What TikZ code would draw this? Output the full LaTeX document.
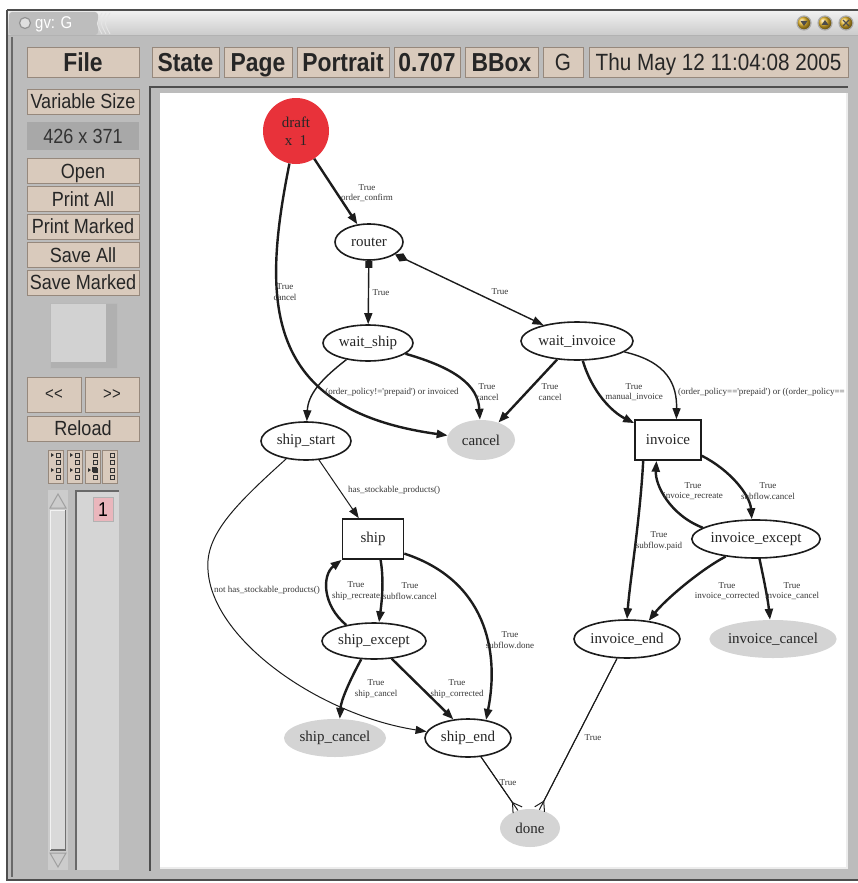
\documentclass[tikz,border=0pt]{standalone}
\usepackage{fontspec}
\setmainfont{Liberation Serif}
\newfontfamily\uifont[FakeStretch=0.88]{Liberation Sans}
\usetikzlibrary{arrows.meta,shapes.geometric}
\definecolor{panel}{RGB}{188,188,188}
\definecolor{btnfill}{RGB}{217,202,188}
\definecolor{btnline}{RGB}{150,136,124}
\definecolor{sizebox}{RGB}{168,168,168}
\definecolor{draftred}{RGB}{232,50,58}
\definecolor{grayfill}{RGB}{212,212,212}
\definecolor{pagepink}{RGB}{234,182,188}
\definecolor{darkline}{RGB}{78,78,78}
\definecolor{edgecol}{RGB}{28,28,28}
\definecolor{labelcol}{RGB}{55,55,55}
\definecolor{yellowbtn}{RGB}{228,180,40}
\tikzset{
  btn/.style={draw=btnline, line width=0.8pt, fill=btnfill, inner sep=0pt,
    text depth=0pt, text=black!85},
  topbtn/.style={btn, minimum height=30, text height=18.6pt, font=\uifont\bfseries\fontsize{26}{28}\selectfont},
  topbtnreg/.style={btn, minimum height=30, text height=16.8pt, font=\uifont\fontsize{23.5}{26}\selectfont},
  sidebtn/.style={btn, minimum width=112, minimum height=25, text height=14.7pt, font=\uifont\fontsize{20.5}{22}\selectfont},
  gnode/.style={ellipse, draw=edgecol, line width=1.6pt, inner sep=0pt,
    font=\fontsize{15}{17}\selectfont, text=black!85},
  gbox/.style={rectangle, draw=edgecol, line width=1.6pt, inner sep=0pt,
    font=\fontsize{15}{17}\selectfont, text=black!85},
  gfilled/.style={ellipse, fill=grayfill, inner sep=0pt,
    font=\fontsize{15}{17}\selectfont, text=black!85},
  elab/.style={font=\fontsize{9}{10.5}\selectfont, text=labelcol, align=center, inner sep=0pt},
  arrowtri/.style={-{Triangle[length=11pt,width=8pt]}},
  edgebold/.style={draw=edgecol, line width=2.4pt, arrowtri},
  edgemed/.style={draw=edgecol, line width=1.4pt, arrowtri},
  edgethin/.style={draw=edgecol, line width=1pt, arrowtri},
  edgeplain/.style={draw=edgecol, line width=1pt},
  edgecrow/.style={draw=edgecol, line width=1pt, -{Straight Barb[reversed,length=9pt,width=11pt]}},
  iconbox/.style={fill=btnfill, draw=btnline, line width=0.6pt},
}
\begin{document}
\begin{tikzpicture}[x=1pt,y=-1pt]
\useasboundingbox (0,0) rectangle (858,883);
\fill[white] (0,0) rectangle (858,883);
% window body
\fill[panel] (7,10) rectangle (858,881);
% title bar
\shade[top color=gray!10, bottom color=gray!42] (7,10) rectangle (858,36);
\fill[gray!52, rounded corners=3pt] (9,12) rectangle (98,35);
\foreach \gx in {102,106,110}{
  \draw[gray!20, line width=0.9pt] (\gx,13) .. controls (\gx-6,23) .. (\gx,34);
}
\draw[darkline, line width=1.5pt] (7,10) -- (858,10);
\draw[gray!60, line width=1pt] (7,36) -- (858,36);
\node[circle, draw=gray!85, line width=1.2pt, fill=gray!25, minimum size=11, inner sep=0pt] (ticon) at (25,23) {};
\node[anchor=west, inner sep=0pt, text=white, text height=12pt, text depth=0pt,
  font=\uifont\fontsize{17}{18}\selectfont] (ttext) at (35,23) {gv: G};
\foreach \bx/\nm in {804/b1, 825/b2, 846/b3}{
  \node[circle, draw=gray!65, line width=1.2pt, ball color=yellowbtn, minimum size=14, inner sep=0pt] (\nm) at (\bx,23) {};
}
\fill[black!70] (800.5,21) -- (807.5,21) -- (804,26) -- cycle;
\fill[black!70] (821.5,25) -- (828.5,25) -- (825,20) -- cycle;
\draw[black!70, line width=1.2pt] (843,20) -- (849,26) (843,26) -- (849,20);
% window borders
\draw[darkline, line width=2pt] (7,10) -- (7,881);
\draw[darkline!85, line width=1.2pt] (12,37) -- (12,877);
\draw[darkline, line width=2pt] (7,880) -- (858,880);

% top buttons
\node[topbtn, minimum width=112] (bfile) at (83,62) {File};
\node[topbtn, minimum width=67] (bstate) at (185.5,62) {State};
\node[topbtn, minimum width=68] (bpage) at (258,62) {Page};
\node[topbtn, minimum width=92] (bport) at (343,62) {Portrait};
\node[topbtn, minimum width=66] (bscale) at (427,62) {0.707};
\node[topbtn, minimum width=73] (bbbox) at (501.5,62) {BBox};
\node[topbtnreg, minimum width=40] (bg) at (563,62) {G};
\node[topbtnreg, minimum width=259] (bdate) at (718.5,62) {Thu May 12 11:04:08 2005};

% side panel
\node[sidebtn] (bvar) at (83,101.5) {Variable Size};
\node[fill=sizebox, minimum width=112, minimum height=28, inner sep=0pt, text height=14.7pt, text depth=0pt,
  text=black!80, font=\uifont\fontsize{20.5}{22}\selectfont] (bsize) at (83,136) {426 x 371};
\node[sidebtn] (bopen) at (83,171) {Open};
\node[sidebtn] (bprintall) at (83,199) {Print All};
\node[sidebtn] (bprintm) at (83,226.5) {Print Marked};
\node[sidebtn] (bsaveall) at (83,255) {Save All};
\node[sidebtn] (bsavem) at (83,282.5) {Save Marked};
% panner square
\fill[gray!35] (50,303) rectangle (117,368);
\fill[gray!62] (106,303) -- (117,303) -- (117,368) -- (50,368) -- (50,362) -- (106,362) -- cycle;
\draw[gray!55, line width=0.8pt] (50,368) -- (50,303) -- (117,303);
\node[btn, minimum width=54, minimum height=35, text height=10pt, font=\uifont\fontsize{17}{18}\selectfont] (bprev) at (54,394.5) {<\kern0.5pt<};
\node[btn, minimum width=54, minimum height=35, text height=10pt, font=\uifont\fontsize{17}{18}\selectfont] (bnext) at (112,394.5) {>\kern0.5pt>};
\node[sidebtn] (breload) at (83,428.5) {Reload};
% mark icons
\foreach \ix/\ta/\tb in {48/1/1, 67/1/1, 85/0/1, 102/0/0}{
  \draw[iconbox] (\ix,450) rectangle (\ix+15.5,483);
  \foreach \k in {0,1,2,3}{
    \draw[black!80, line width=0.6pt] (\ix+8,453+\k*7.5) rectangle (\ix+12,457+\k*7.5);
  }
  \ifnum\ta=1 \fill[black!80] (\ix+3,453) -- (\ix+6,455) -- (\ix+3,457) -- cycle; \fi
  \ifnum\tb=1 \fill[black!80] (\ix+3,468) -- (\ix+6,470) -- (\ix+3,472) -- cycle; \fi
}
\fill[black!80] (92,467) rectangle (97,472);
% scrollbar
\fill[gray!40] (48,490) rectangle (68,870);
\fill[gray!30] (50,510) rectangle (66,850);
\draw[darkline!80, line width=1.5pt] (65.5,510) -- (65.5,850) -- (50,850);
\draw[gray!10, line width=0.8pt] (50.5,850) -- (50.5,510) -- (65,510);
\draw[gray!75, line width=1pt] (50,508) -- (58,494) -- (66,508) -- cycle;
\draw[gray!75, line width=1pt] (50,853) -- (58,867) -- (66,853) -- cycle;
% page list
\fill[gray!33] (75,490) rectangle (119,870);
\draw[darkline!85, line width=2pt] (76,870) -- (76,491) -- (119,491);
\node[fill=pagepink, draw=gray!60, line width=0.6pt, minimum width=20, minimum height=24, inner sep=0pt,
  text height=14.3pt, text depth=0pt, font=\uifont\fontsize{20}{22}\selectfont] (page1) at (103,509) {1};

% canvas frame
\draw[darkline, line width=2pt] (150,871) -- (150,87) -- (848,87);
\fill[white] (160,93) rectangle (846,867);
\draw[gray!15, line width=1.5pt] (847,93) -- (847,868) -- (160,868);

\begin{scope}
\clip (160,93) rectangle (846,867);
% nodes
\node[circle, fill=draftred, minimum size=66, inner sep=0pt, align=center,
  font=\fontsize{15}{18}\selectfont, text=black!85] (draft) at (296,131) {draft\\x\ \ 1};
\node[gnode, minimum width=68, minimum height=36] (router) at (369,242) {router};
\node[gnode, minimum width=90, minimum height=36] (waitship) at (368,343) {wait\_ship};
\node[gnode, minimum width=112, minimum height=38] (waitinvoice) at (577,341) {wait\_invoice};
\node[gfilled, minimum width=68, minimum height=40] (cancel) at (481,440) {cancel};
\node[gnode, minimum width=90, minimum height=38] (shipstart) at (306,441) {ship\_start};
\node[gbox, minimum width=66, minimum height=40] (invoice) at (668,440) {invoice};
\node[gbox, minimum width=61, minimum height=40] (ship) at (373,539) {ship};
\node[gnode, minimum width=124, minimum height=38] (invexcept) at (756,539) {invoice\_except};
\node[gnode, minimum width=104, minimum height=36] (shipexcept) at (374,641) {ship\_except};
\node[gnode, minimum width=106, minimum height=38] (invend) at (627,639) {invoice\_end};
\node[gfilled, minimum width=124, minimum height=38] (invcancel) at (773,639) {invoice\_cancel};
\node[gfilled, minimum width=102, minimum height=38] (shipcancel) at (335,738) {ship\_cancel};
\node[gnode, minimum width=86, minimum height=38] (shipend) at (468,738) {ship\_end};
\node[gfilled, minimum width=60, minimum height=38] (done) at (530,828) {done};

% edges
\draw[edgebold] (draft) -- (router);
\node[elab] (l1) at (367,193) {True\\order\_confirm};
\draw[edgebold] (draft) .. controls (262,300) and (262,410) .. (cancel);
\node[elab] (l2) at (285,292) {True\\cancel};
\draw[edgemed, {Square[length=7pt,width=7pt]}-{Triangle[length=11pt,width=8pt]}] (router) -- (waitship);
\node[elab] (l3) at (381,293) {True};
\draw[edgemed, {Diamond[length=14pt,width=9pt]}-{Triangle[length=11pt,width=8pt]}] (router) -- (waitinvoice);
\node[elab] (l4) at (500,292) {True};
\draw[edgemed] (waitship) .. controls (320,380) and (308,395) .. (shipstart);
\node[elab] (l5) at (392,392) {(order\_policy!=\textquotesingle prepaid\textquotesingle) or invoiced};
\draw[edgebold] (waitship) .. controls (455,368) and (478,385) .. (cancel);
\node[elab] (l6) at (487,392) {True\\cancel};
\draw[edgebold] (waitinvoice.223) -- (cancel.45);
\node[elab] (l7) at (550,392) {True\\cancel};
\draw[edgebold] (waitinvoice) .. controls (592,392) and (612,412) .. (invoice);
\node[elab] (l8) at (634,392) {True\\manual\_invoice};
\draw[edgemed] (waitinvoice) .. controls (668,362) and (677,385) .. (invoice.68);
\node[elab, anchor=west] (l9) at (678,392) {(order\_policy==\textquotesingle prepaid\textquotesingle) or ((order\_policy==};
\draw[edgethin] (shipstart) -- (ship);
\node[elab] (l10) at (394,490) {has\_stockable\_products()};
\draw[edgethin] (shipstart) .. controls (235,505) and (205,535) .. (208,570)
  .. controls (212,640) and (320,715) .. (shipend);
\node[elab] (l11) at (267,590) {not has\_stockable\_products()};
\draw[edgebold] (ship.-70) .. controls (384,580) and (382,600) .. (shipexcept.75);
\node[elab] (l12) at (410,591) {True\\subflow.cancel};
\draw[edgebold] (shipexcept.150) .. controls (322,605) and (322,575) .. (ship.south west);
\node[elab] (l13) at (356,591) {True\\ship\_recreate};
\draw[edgebold] (ship.-25) .. controls (485,580) and (500,650) .. (shipend.45);
\node[elab] (l14) at (510,640) {True\\subflow.done};
\draw[edgebold] (shipexcept.-125) .. controls (350,680) and (341,700) .. (shipcancel.76);
\node[elab] (l15) at (376,689) {True\\ship\_cancel};
\draw[edgebold] (shipexcept.-45) -- (shipend.128);
\node[elab] (l16) at (457,689) {True\\ship\_corrected};
\draw[edgeplain] (shipend) -- (done);
\draw[edgecrow] (shipend) -- (done);
\node[elab] (l17) at (508,783) {True};
\draw[edgeplain] (invend) -- (done);
\draw[edgecrow] (invend) -- (done);
\node[elab] (l18) at (593,738) {True};
\draw[edgebold] (invoice.-140) .. controls (640,520) and (630,580) .. (invend.90);
\node[elab] (l19) at (659,541) {True\\subflow.paid};
\draw[edgebold] (invexcept.168) .. controls (670,515) and (655,485) .. (invoice.-119);
\node[elab] (l20) at (693,491) {True\\invoice\_recreate};
\draw[edgebold] (invoice.-25) .. controls (730,470) and (750,495) .. (invexcept.102);
\node[elab] (l21) at (768,491) {True\\subflow.cancel};
\draw[edgebold] (invexcept.-150) .. controls (700,570) and (665,600) .. (invend.40);
\node[elab] (l22) at (727,591) {True\\invoice\_corrected};
\draw[edgebold] (invexcept.-80) .. controls (764,580) and (768,600) .. (invcancel.99);
\node[elab] (l23) at (792,591) {True\\invoice\_cancel};
\end{scope}
\end{tikzpicture}
\end{document}
